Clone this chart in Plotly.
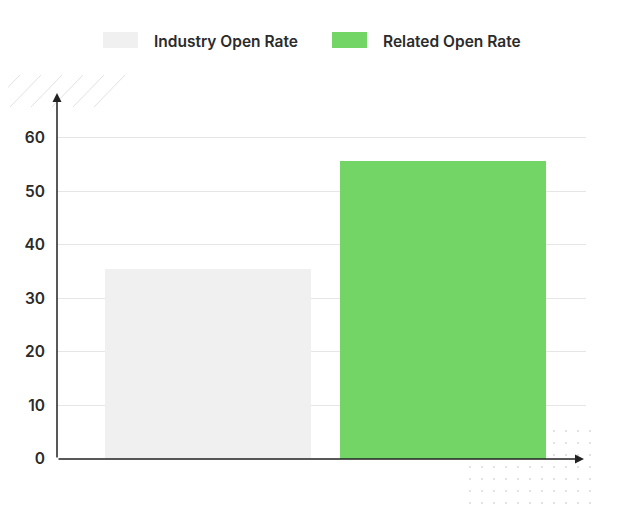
import plotly.graph_objects as go

categories = ["Industry Open Rate", "Related Open Rate"]
values = [35.5, 55.7]
colors = ["#f0f0f0", "#73d566"]
y_ticks = [0, 10, 20, 30, 40, 50, 60]

# page body has an 8px margin; figure is sized/offset to compensate
OFF = 8
W, H = 616, 503
L, R, T, B = 49, 38, 92, 52
pw, ph = W - L - R, H - T - B

def px_to_paper(x, y):
    # x, y in screenshot pixels
    return (x - OFF - L) / pw, (H - B - (y - OFF)) / ph

fig = go.Figure()
fig.add_trace(go.Bar(
    x=[0, 1], y=values, marker=dict(color=colors, line=dict(width=0)),
    width=0.877, showlegend=False, hoverinfo="skip",
))

shapes = []
# decorative hatch top-left
for x0 in [-11, 10, 31, 52, 73, 94]:
    ax0, ay0 = px_to_paper(x0, 107)
    ax1, ay1 = px_to_paper(x0 + 31, 75)
    shapes.append(dict(type="line", xref="paper", yref="paper", x0=ax0, y0=ay0, x1=ax1, y1=ay1,
                       line=dict(color="#e2e2e2", width=1), layer="below"))
# decorative dots bottom-right
for cx in range(470, 591, 12):
    for cy in range(431, 504, 12):
        d = 0.8
        a0, b0 = px_to_paper(cx - d, cy + d)
        a1, b1 = px_to_paper(cx + d, cy - d)
        shapes.append(dict(type="circle", xref="paper", yref="paper",
                           x0=a0, x1=a1, y0=b0, y1=b1,
                           fillcolor="#bdbdbd", line=dict(width=0), layer="below"))
# legend swatches
lx = [103, 332]
for i, c in enumerate(colors):
    x0, y0 = px_to_paper(lx[i], 48)
    x1, y1 = px_to_paper(lx[i] + 35, 32)
    shapes.append(dict(type="rect", xref="paper", yref="paper", x0=x0, y0=y0, x1=x1, y1=y1,
                       fillcolor=c, line=dict(width=0)))

annotations = []
for i, name in enumerate(categories):
    x, y = px_to_paper(lx[i] + 49, 41)
    annotations.append(dict(text=name, xref="paper", yref="paper", x=x, y=y, xanchor="left",
                            yanchor="middle", showarrow=False,
                            font=dict(size=15.5, color="#2b2b2b", family="Inter", weight=600)))
# axis arrows
ax_, ay_ = px_to_paper(57, 93)
bx_, by_ = px_to_paper(57, 459)
cx_, cy_ = px_to_paper(584, 459)
for (tx, ty) in [(ax_, ay_), (cx_, cy_)]:
    annotations.append(dict(xref="x domain", yref="y domain", x=tx, y=ty,
                            axref="x domain", ayref="y domain", ax=bx_, ay=by_,
                            showarrow=True, arrowhead=2, arrowsize=1.2, arrowwidth=1.5,
                            arrowcolor="#222222", text=""))

fig.update_layout(
    width=W, height=H, margin=dict(l=L, r=R, t=T, b=B),
    paper_bgcolor="white", plot_bgcolor="white",
    shapes=shapes, annotations=annotations,
    xaxis=dict(range=[-0.643, 1.609], showticklabels=False, showgrid=False, zeroline=False,
               showline=False, fixedrange=True),
    yaxis=dict(range=[0, 67], tickvals=y_ticks, showgrid=True, gridcolor="#e6e6e6", gridwidth=1,
               zeroline=False, showline=False, ticks="", ticklabelstandoff=11,
               tickfont=dict(size=15.5, color="#2b2b2b", family="Inter", weight=600)),
    bargap=0,
)

fig.write_html("out.html")
